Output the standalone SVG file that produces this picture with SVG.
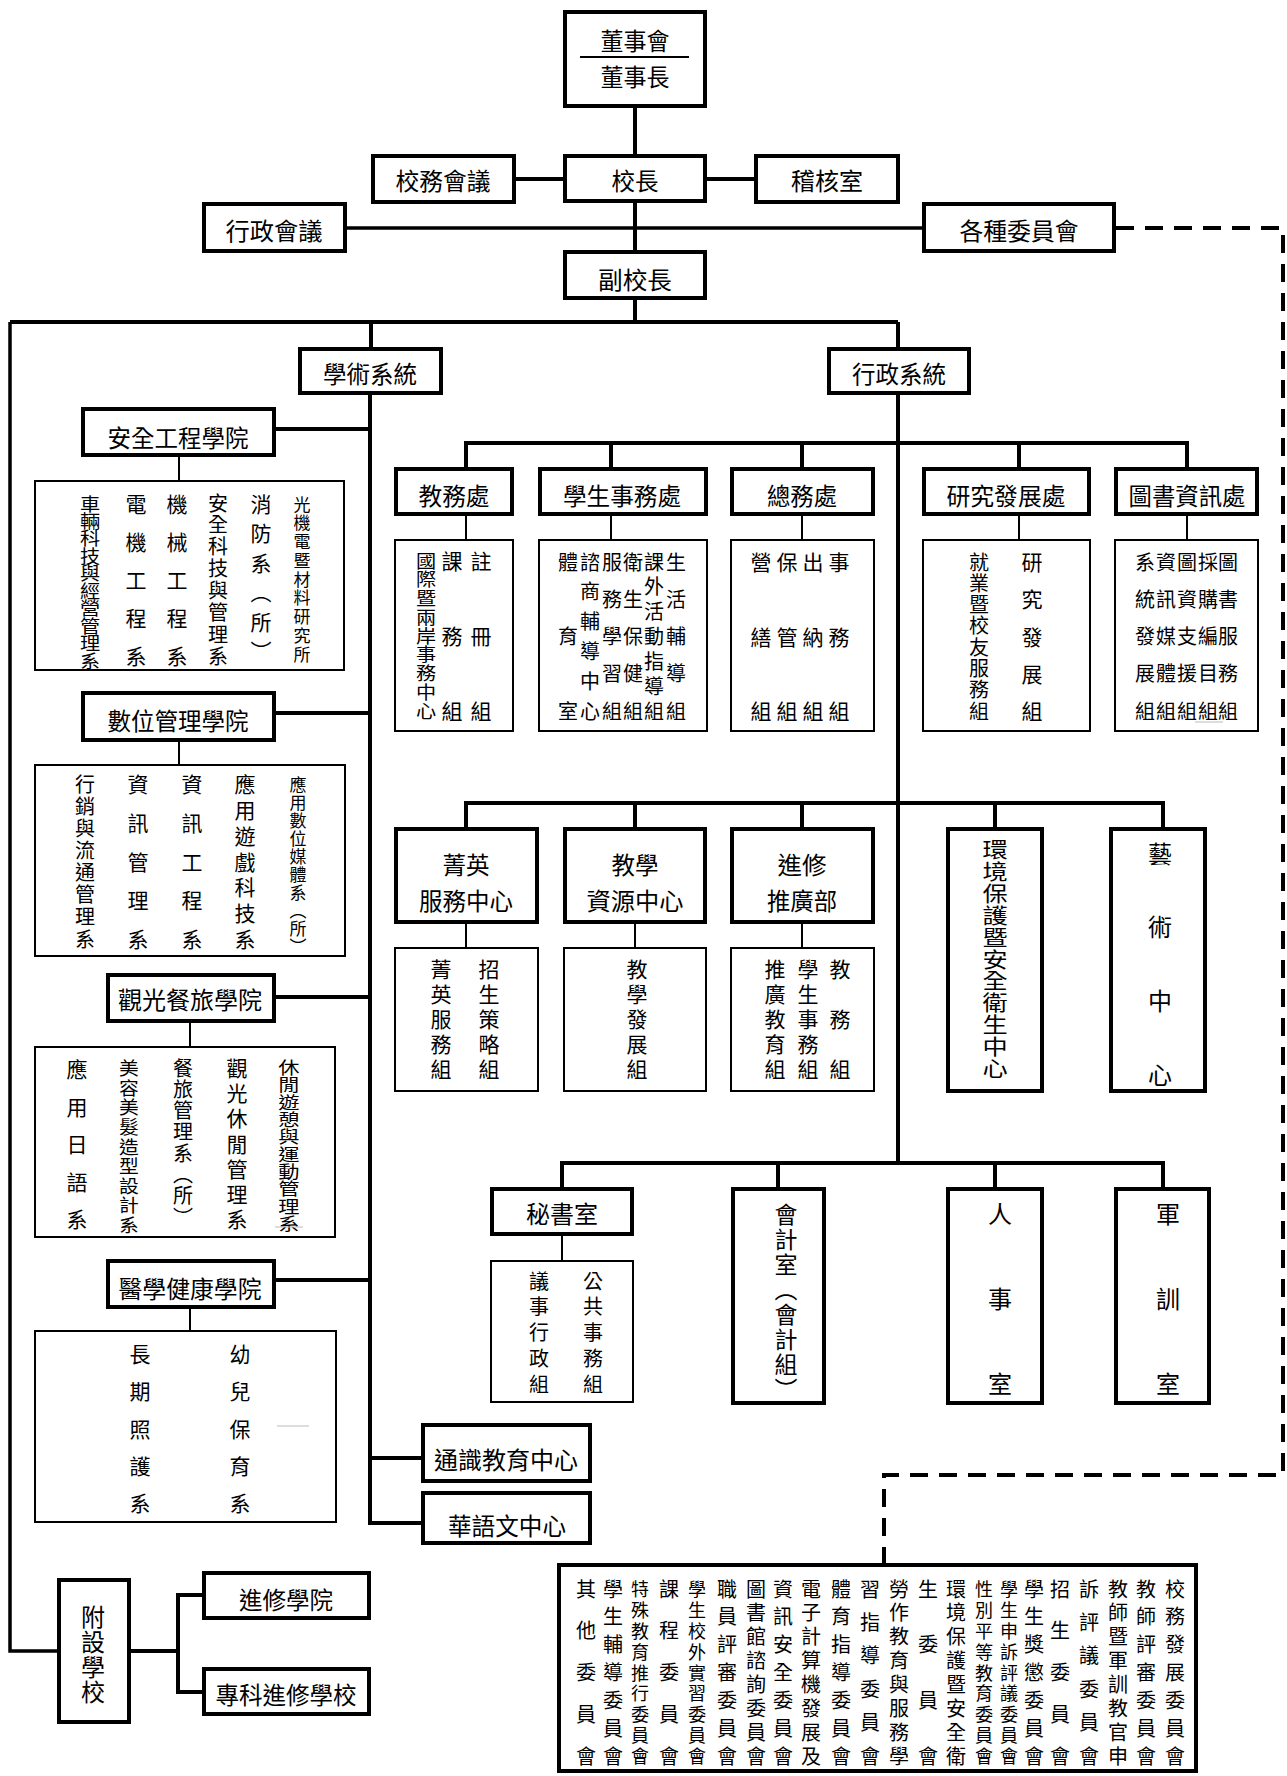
<svg xmlns="http://www.w3.org/2000/svg" width="1287" height="1776" viewBox="0 0 1287 1776">
<style>
.b{fill:#fff;stroke:#000;stroke-width:4}
.s{fill:#fff;stroke:#000;stroke-width:2}
.c{fill:none;stroke:#000;stroke-width:4}
.ct{fill:none;stroke:#000;stroke-width:2}
.d{fill:none;stroke:#000;stroke-width:4;stroke-dasharray:18 11}
.g{fill:none;stroke:#bbb;stroke-width:1}
text{font-family:"Noto Sans CJK TC","Noto Sans CJK SC",sans-serif;text-anchor:middle;dominant-baseline:central;fill:#000}
.h{font-size:24px}
.f23{font-size:23px}
.f21{font-size:21px}
.f20{font-size:20px}
.f18{font-size:18px}
.f17{font-size:17px}
</style>
<rect width="1287" height="1776" fill="#fff"/>
<g id="connectors">
<path class="c" d="M635 108V154M516 179H563M707 179H754M635 203V250M635 300V322"/>
<path class="c" style="stroke-width:3.5" d="M347 228H922"/>
<path class="c" d="M10 322H898M371 322V347M898 322V347"/>
<path class="c" style="stroke-width:3.5" d="M10 322V1651H57"/>
<path class="c" d="M131 1651H178M202 1595H178V1692H202"/>
<path class="c" d="M370 395V1523H421M370 1458H421M276 429H370M276 713H370M276 997H370M276 1280H370"/>
<path class="ct" d="M179 457V480M179 742V764M190 1023V1046M190 1309V1330"/>
<path class="c" d="M898 395V1163"/>
<path class="c" d="M466 467V443H1187V467M611 443V467M802 443V467M1019 443V467"/>
<path class="ct" d="M466 516V539M611 516V539M802 516V539M1019 516V539M1187 516V539"/>
<path class="c" d="M466 827V803H1163V827M635 803V827M802 803V827M995 803V827"/>
<path class="ct" d="M466 924V947M635 924V947M802 924V947"/>
<path class="c" d="M562 1187V1163H1163V1187M778 1163V1187M995 1163V1187"/>
<path class="ct" d="M562 1236V1260"/>
<path class="d" d="M1116 228H1283V1475H884V1563"/>
</g>
<g id="board"><rect class="b" x="565" y="12" width="140" height="94"/><path class="ct" d="M580 57H689"/><text class="h" x="635" y="39" textLength="69" lengthAdjust="spacingAndGlyphs">董事會</text><text class="h" x="635" y="75" textLength="69" lengthAdjust="spacingAndGlyphs">董事長</text></g>
<g id="school-affairs-meeting"><rect class="b" x="373" y="156" width="141" height="46"/><text class="h" x="443" y="179" textLength="95" lengthAdjust="spacingAndGlyphs">校務會議</text></g>
<g id="president"><rect class="b" x="565" y="156" width="140" height="45"/><text class="h" x="635" y="179" textLength="47" lengthAdjust="spacingAndGlyphs">校長</text></g>
<g id="audit"><rect class="b" x="756" y="156" width="142" height="46"/><text class="h" x="827" y="179" textLength="72" lengthAdjust="spacingAndGlyphs">稽核室</text></g>
<g id="admin-meeting"><rect class="b" x="204" y="204" width="141" height="47"/><text class="h" x="274" y="229" textLength="97" lengthAdjust="spacingAndGlyphs">行政會議</text></g>
<g id="committees"><rect class="b" x="924" y="204" width="190" height="47"/><text class="h" x="1019" y="229" textLength="119" lengthAdjust="spacingAndGlyphs">各種委員會</text></g>
<g id="vice-president"><rect class="b" x="565" y="252" width="140" height="46"/><text class="h" x="635" y="278" textLength="74" lengthAdjust="spacingAndGlyphs">副校長</text></g>
<g id="academic"><rect class="b" x="300" y="349" width="141" height="44"/><text class="h" x="370" y="372" textLength="94" lengthAdjust="spacingAndGlyphs">學術系統</text></g>
<g id="administration"><rect class="b" x="829" y="349" width="140" height="44"/><text class="h" x="899" y="372" textLength="94" lengthAdjust="spacingAndGlyphs">行政系統</text></g>

<g id="college-safety"><rect class="b" x="83" y="409" width="191" height="46"/><text class="h" x="178" y="436" textLength="141" lengthAdjust="spacingAndGlyphs">安全工程學院</text></g>
<g id="depts-safety"><rect class="s" x="35" y="481" width="309" height="189"/>
<text class="f18" transform="matrix(1.12 0 0 1 -10.8 0)" x="90 90 90 90 90 90 90 90 90 90" y="503 520.4 537.9 555.3 572.8 590.2 607.7 625.1 642.6 660">車輛科技與經營管理系</text>
<text class="f21" x="136 136 136 136 136" y="503 541 579 617 655">電機工程系</text>
<text class="f21" x="177 177 177 177 177" y="503 541 579 617 655">機械工程系</text>
<text class="f20" x="218 218 218 218 218 218 218 218" y="502 523.9 545.7 567.6 589.4 611.3 633.1 655">安全科技與管理系</text>
<text class="f21" x="261 261 261 261 261 261" y="503 532.4 561.8 591.2 620.6 650">消防系︵所︶</text>
<text class="f17" x="302 302 302 302 302 302 302 302 302" y="503 521.75 540.5 559.25 578 596.75 615.5 634.25 653">光機電暨材料研究所</text>
</g>
<g id="college-digital"><rect class="b" x="83" y="693" width="191" height="47"/><text class="h" x="178" y="719" textLength="141" lengthAdjust="spacingAndGlyphs">數位管理學院</text></g>
<g id="depts-digital"><rect class="s" x="35" y="765" width="310" height="191"/>
<text class="f20" x="85 85 85 85 85 85 85 85" y="783 805.1 827.3 849.4 871.6 893.7 915.9 938">行銷與流通管理系</text>
<text class="f21" x="138 138 138 138 138" y="783 821.75 860.5 899.25 938">資訊管理系</text>
<text class="f21" x="192 192 192 192 192" y="783 821.75 860.5 899.25 938">資訊工程系</text>
<text class="f21" x="245 245 245 245 245 245 245" y="783 808.8 834.7 860.5 886.3 912.2 938">應用遊戲科技系</text>
<text class="f17" x="298 298 298 298 298 298 298 298 298 298" y="783 801 819 837 855 873 891 909 927 945">應用數位媒體系︵所︶</text>
</g>
<g id="college-tourism"><rect class="b" x="108" y="975" width="166" height="46"/><text class="h" x="190" y="998" textLength="144" lengthAdjust="spacingAndGlyphs">觀光餐旅學院</text></g>
<g id="depts-tourism"><rect class="s" x="35" y="1047" width="300" height="190"/>
<text class="f21" x="77 77 77 77 77" y="1068 1105.5 1143 1180.5 1218">應用日語系</text>
<text class="f18" transform="matrix(1.1 0 0 1 -12.9 0)" x="129 129 129 129 129 129 129 129 129" y="1067 1086.6 1106.3 1125.9 1145.5 1165.1 1184.8 1204.4 1224">美容美髮造型設計系</text>
<text class="f20" x="183 183 183 183 183 183 183 183" y="1067 1088.3 1109.6 1130.9 1152.1 1173.4 1194.7 1216">餐旅管理系︵所︶</text>
<text class="f21" x="237 237 237 237 237 237 237" y="1067 1092.2 1117.3 1142.5 1167.7 1192.8 1218">觀光休閒管理系</text>
<text class="f17" transform="matrix(1.25 0 0 1 -72.25 0)" x="289 289 289 289 289 289 289 289 289 289" y="1067 1084.3 1101.7 1119 1136.3 1153.7 1171 1188.3 1205.7 1223">休閒遊憩與運動管理系</text>
<path class="g" d="M275 1227H303"/>
</g>
<g id="college-health"><rect class="b" x="108" y="1261" width="166" height="46"/><text class="h" x="190" y="1287" textLength="143" lengthAdjust="spacingAndGlyphs">醫學健康學院</text></g>
<g id="depts-health"><rect class="s" x="35" y="1331" width="301" height="191"/>
<text class="f21" x="140 140 140 140 140" y="1353 1390 1427.5 1465 1502">長期照護系</text>
<text class="f21" x="240 240 240 240 240" y="1353 1390 1427.5 1465 1502">幼兒保育系</text>
<path class="g" d="M277 1426H309"/>
</g>
<g id="general-education"><rect class="b" x="423" y="1425" width="167" height="56"/><text class="h" x="506" y="1458" textLength="144" lengthAdjust="spacingAndGlyphs">通識教育中心</text></g>
<g id="chinese-center"><rect class="b" x="423" y="1493" width="167" height="50"/><text class="h" x="507" y="1524" textLength="118" lengthAdjust="spacingAndGlyphs">華語文中心</text></g>
<g id="affiliated"><rect class="b" x="59" y="1580" width="70" height="142"/><text class="h" x="93 93 93 93" y="1615 1640 1665 1690">附設學校</text></g>
<g id="continuing-college"><rect class="b" x="204" y="1573" width="165" height="45"/><text class="h" x="286" y="1598" textLength="94" lengthAdjust="spacingAndGlyphs">進修學院</text></g>
<g id="continuing-junior"><rect class="b" x="204" y="1669" width="165" height="45"/><text class="h" x="286" y="1693" textLength="141" lengthAdjust="spacingAndGlyphs">專科進修學校</text></g>

<g id="academic-affairs"><rect class="b" x="396" y="469" width="116" height="45"/><text class="h" x="454" y="494" textLength="71" lengthAdjust="spacingAndGlyphs">教務處</text>
<rect class="s" x="395" y="540" width="118" height="191"/>
<text class="f18" transform="matrix(1.12 0 0 1 -51.12 0)" x="426 426 426 426 426 426 426 426 426" y="560 578.75 597.5 616.25 635 653.75 672.5 691.25 710">國際暨兩岸事務中心</text>
<text class="f21" x="452 452 452" y="560 635 710">課務組</text>
<text class="f21" x="481 481 481" y="560 635 710">註冊組</text>
</g>
<g id="student-affairs"><rect class="b" x="540" y="469" width="166" height="45"/><text class="h" x="622" y="494" textLength="118" lengthAdjust="spacingAndGlyphs">學生事務處</text>
<rect class="s" x="539" y="540" width="168" height="191"/>
<text class="f20" x="568 568 568" y="561 635.5 710">體育室</text>
<text class="f20" x="590 590 590 590 590 590" y="561 590.8 620.6 650.4 680.2 710">諮商輔導中心</text>
<text class="f20" x="612 612 612 612 612" y="561 598.25 635.5 672.75 710">服務學習組</text>
<text class="f20" x="633 633 633 633 633" y="561 598.25 635.5 672.75 710">衛生保健組</text>
<text class="f20" x="654 654 654 654 654 654 654" y="561 585.8 610.7 635.5 660.3 685.2 710">課外活動指導組</text>
<text class="f20" x="676 676 676 676 676" y="561 598.25 635.5 672.75 710">生活輔導組</text>
</g>
<g id="general-affairs"><rect class="b" x="732" y="469" width="141" height="45"/><text class="h" x="802" y="494" textLength="70" lengthAdjust="spacingAndGlyphs">總務處</text>
<rect class="s" x="731" y="540" width="143" height="191"/>
<text class="f21" x="761 761 761" y="561 635.5 710">營繕組</text>
<text class="f21" x="787 787 787" y="561 635.5 710">保管組</text>
<text class="f21" x="813 813 813" y="561 635.5 710">出納組</text>
<text class="f21" x="839 839 839" y="561 635.5 710">事務組</text>
</g>
<g id="research"><rect class="b" x="924" y="469" width="165" height="45"/><text class="h" x="1006" y="494" textLength="119" lengthAdjust="spacingAndGlyphs">研究發展處</text>
<rect class="s" x="923" y="540" width="167" height="191"/>
<text class="f20" x="979 979 979 979 979 979 979 979" y="561 582.3 603.6 624.9 646.1 667.4 688.7 710">就業暨校友服務組</text>
<text class="f21" x="1032 1032 1032 1032 1032" y="561 598.25 635.5 672.75 710">研究發展組</text>
</g>
<g id="library"><rect class="b" x="1116" y="469" width="141" height="45"/><text class="h" x="1187" y="494" textLength="117" lengthAdjust="spacingAndGlyphs">圖書資訊處</text>
<rect class="s" x="1115" y="540" width="143" height="191"/>
<text class="f20" x="1145 1145 1145 1145 1145" y="561 598.25 635.5 672.75 710">系統發展組</text>
<text class="f20" x="1166 1166 1166 1166 1166" y="561 598.25 635.5 672.75 710">資訊媒體組</text>
<text class="f20" x="1187 1187 1187 1187 1187" y="561 598.25 635.5 672.75 710">圖資支援組</text>
<text class="f20" x="1208 1208 1208 1208 1208" y="561 598.25 635.5 672.75 710">採購編目組</text>
<text class="f20" x="1228 1228 1228 1228 1228" y="561 598.25 635.5 672.75 710">圖書服務組</text>
<path class="g" d="M1195 722H1223"/>
</g>

<g id="elite-center"><rect class="b" x="396" y="829" width="141" height="93"/><text class="h" x="466" y="863" textLength="47" lengthAdjust="spacingAndGlyphs">菁英</text><text class="h" x="466" y="899" textLength="94" lengthAdjust="spacingAndGlyphs">服務中心</text>
<rect class="s" x="395" y="948" width="143" height="143"/>
<text class="f21" x="441 441 441 441 441" y="968 993 1018 1043 1068">菁英服務組</text>
<text class="f21" x="489 489 489 489 489" y="968 993 1018 1043 1068">招生策略組</text>
</g>
<g id="teaching-center"><rect class="b" x="565" y="829" width="140" height="93"/><text class="h" x="635" y="863" textLength="47" lengthAdjust="spacingAndGlyphs">教學</text><text class="h" x="635" y="899" textLength="97" lengthAdjust="spacingAndGlyphs">資源中心</text>
<rect class="s" x="564" y="948" width="142" height="143"/>
<text class="f21" x="637 637 637 637 637" y="968 993 1018 1043 1068">教學發展組</text>
</g>
<g id="extension"><rect class="b" x="732" y="829" width="141" height="93"/><text class="h" x="802" y="863" textLength="49" lengthAdjust="spacingAndGlyphs">進修</text><text class="h" x="802" y="899" textLength="70" lengthAdjust="spacingAndGlyphs">推廣部</text>
<rect class="s" x="731" y="948" width="143" height="143"/>
<text class="f21" x="775 775 775 775 775" y="968 993 1018 1043 1068">推廣教育組</text>
<text class="f21" x="808 808 808 808 808" y="968 993 1018 1043 1068">學生事務組</text>
<text class="f21" x="840 840 840" y="968 1018 1068">教務組</text>
</g>
<g id="environment-center"><rect class="b" x="948" y="829" width="94" height="262"/>
<text class="f21" transform="matrix(1.2 0 0 1 -199 0)" x="995 995 995 995 995 995 995 995 995 995 995" y="848 869.9 891.8 913.7 935.6 957.5 979.4 1001.3 1023.2 1045.1 1067">環境保護暨安全衛生中心</text></g>
<g id="arts-center"><rect class="b" x="1111" y="829" width="94" height="262"/>
<text class="h" x="1160 1160 1160 1160" y="852 925.7 999.3 1073">藝術中心</text></g>

<g id="secretariat"><rect class="b" x="492" y="1189" width="140" height="45"/><text class="h" x="562" y="1212" textLength="72" lengthAdjust="spacingAndGlyphs">秘書室</text>
<rect class="s" x="491" y="1261" width="142" height="141"/>
<text class="f20" x="539 539 539 539 539" y="1280 1305.75 1331.5 1357.25 1383">議事行政組</text>
<text class="f20" x="593 593 593 593 593" y="1280 1305.75 1331.5 1357.25 1383">公共事務組</text>
</g>
<g id="accounting"><rect class="b" x="733" y="1189" width="91" height="214"/>
<text class="f23" x="786 786 786 786 786 786 786 786" y="1213 1238 1263 1288 1313 1338 1363 1388">會計室︵會計組︶</text></g>
<g id="personnel"><rect class="b" x="948" y="1189" width="94" height="214"/>
<text class="h" x="1000 1000 1000" y="1212 1297 1382">人事室</text></g>
<g id="military"><rect class="b" x="1116" y="1189" width="93" height="214"/>
<text class="h" x="1168 1168 1168" y="1212 1297 1382">軍訓室</text></g>

<g id="committee-list"><rect class="b" x="559" y="1565" width="637" height="206"/>
<text class="f20" x="586 586 586 586 586" y="1588 1629.75 1671.5 1713.25 1755">其他委員會</text>
<text class="f20" x="613 613 613 613 613 613 613" y="1588 1615.8 1643.7 1671.5 1699.3 1727.2 1755">學生輔導委員會</text>
<text class="f18" x="640 640 640 640 640 640 640 640 640" y="1588 1608.9 1629.75 1650.6 1671.5 1692.4 1713.25 1734.1 1755">特殊教育推行委員會</text>
<text class="f20" x="669 669 669 669 669" y="1588 1629.75 1671.5 1713.25 1755">課程委員會</text>
<text class="f18" x="697 697 697 697 697 697 697 697 697" y="1588 1608.9 1629.75 1650.6 1671.5 1692.4 1713.25 1734.1 1755">學生校外實習委員會</text>
<text class="f20" x="727 727 727 727 727 727 727" y="1588 1615.8 1643.7 1671.5 1699.3 1727.2 1755">職員評審委員會</text>
<text class="f20" x="756 756 756 756 756 756 756 756" y="1588 1611.9 1635.7 1659.6 1683.4 1707.3 1731.1 1755">圖書館諮詢委員會</text>
<text class="f20" x="783 783 783 783 783 783 783" y="1588 1615.8 1643.7 1671.5 1699.3 1727.2 1755">資訊安全委員會</text>
<text class="f20" x="811 811 811 811 811 811 811 811" y="1588 1611.9 1635.7 1659.6 1683.4 1707.3 1731.1 1755">電子計算機發展及</text>
<text class="f20" x="841 841 841 841 841 841 841" y="1588 1615.8 1643.7 1671.5 1699.3 1727.2 1755">體育指導委員會</text>
<text class="f20" x="870 870 870 870 870 870" y="1588 1621.4 1654.8 1688.2 1721.6 1755">習指導委員會</text>
<text class="f20" x="899 899 899 899 899 899 899 899" y="1588 1611.9 1635.7 1659.6 1683.4 1707.3 1731.1 1755">勞作教育與服務學</text>
<text class="f20" x="928 928 928 928" y="1588 1643.7 1699.3 1755">生委員會</text>
<text class="f20" x="956 956 956 956 956 956 956 956" y="1588 1611.9 1635.7 1659.6 1683.4 1707.3 1731.1 1755">環境保護暨安全衛</text>
<text class="f18" x="984 984 984 984 984 984 984 984 984" y="1588 1608.9 1629.75 1650.6 1671.5 1692.4 1713.25 1734.1 1755">性別平等教育委員會</text>
<text class="f18" x="1009 1009 1009 1009 1009 1009 1009 1009 1009" y="1588 1608.9 1629.75 1650.6 1671.5 1692.4 1713.25 1734.1 1755">學生申訴評議委員會</text>
<text class="f20" x="1034 1034 1034 1034 1034 1034 1034" y="1588 1615.8 1643.7 1671.5 1699.3 1727.2 1755">學生獎懲委員會</text>
<text class="f20" x="1060 1060 1060 1060 1060" y="1588 1629.75 1671.5 1713.25 1755">招生委員會</text>
<text class="f20" x="1089 1089 1089 1089 1089 1089" y="1588 1621.4 1654.8 1688.2 1721.6 1755">訴評議委員會</text>
<text class="f20" x="1118 1118 1118 1118 1118 1118 1118 1118" y="1588 1611.9 1635.7 1659.6 1683.4 1707.3 1731.1 1755">教師暨軍訓教官申</text>
<text class="f20" x="1146 1146 1146 1146 1146 1146 1146" y="1588 1615.8 1643.7 1671.5 1699.3 1727.2 1755">教師評審委員會</text>
<text class="f20" x="1175 1175 1175 1175 1175 1175 1175" y="1588 1615.8 1643.7 1671.5 1699.3 1727.2 1755">校務發展委員會</text>
</g>
</svg>
